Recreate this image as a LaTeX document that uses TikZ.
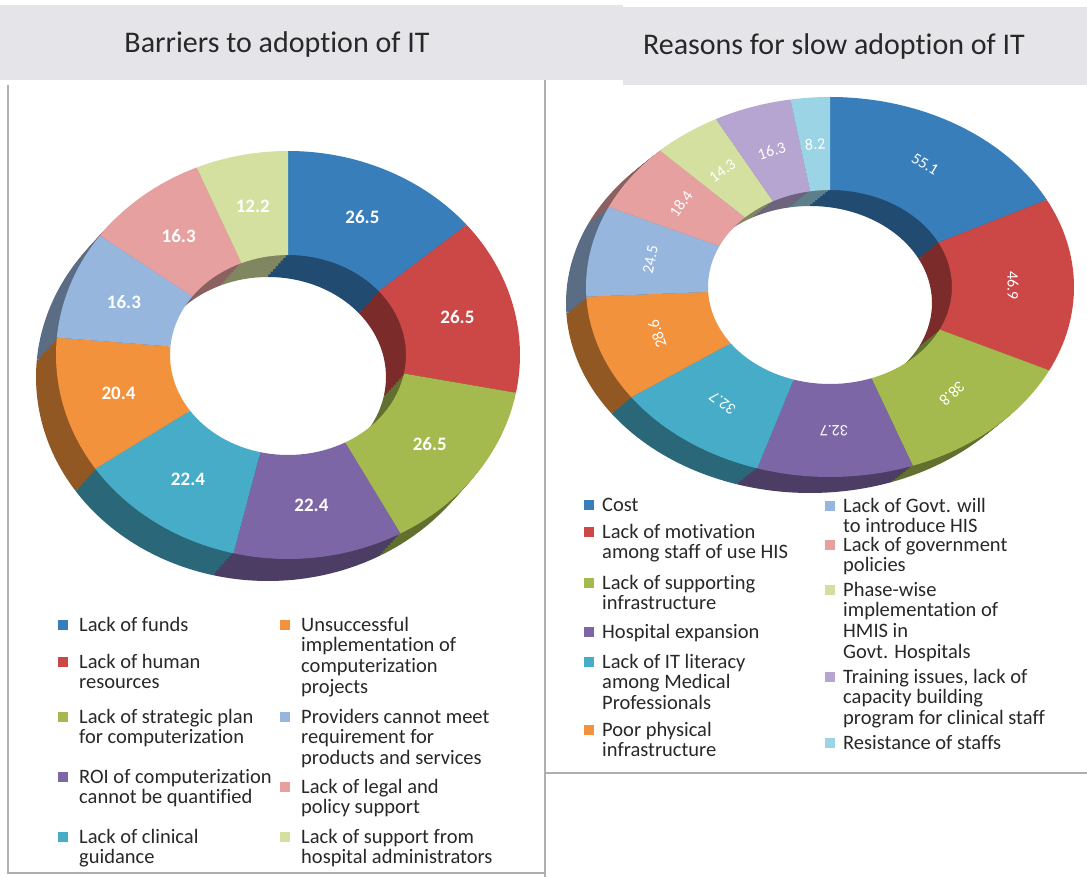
\documentclass[tikz,border=0pt]{standalone}
\usepackage{fontspec}
\setmainfont{Carlito}[Ligatures=NoCommon]
\definecolor{cblue}{RGB}{55, 126, 187}
\definecolor{cred}{RGB}{204, 72, 70}
\definecolor{cgreen}{RGB}{164, 186, 78}
\definecolor{cpurple}{RGB}{125, 102, 165}
\definecolor{ccyan}{RGB}{70, 172, 200}
\definecolor{corange}{RGB}{242, 146, 60}
\definecolor{clblue}{RGB}{150, 182, 222}
\definecolor{cpink}{RGB}{230, 160, 160}
\definecolor{clgreen}{RGB}{212, 224, 160}
\definecolor{clavender}{RGB}{182, 165, 208}
\definecolor{clcyan}{RGB}{155, 212, 228}
\definecolor{headgray}{RGB}{229, 229, 233}
\definecolor{framegray}{RGB}{175, 175, 175}
\definecolor{inkgray}{RGB}{40, 40, 40}
\usetikzlibrary{positioning}

\begin{document}
\begin{tikzpicture}[x=1pt, y=1pt,
  panelline/.style={draw=framegray, line width=1.3pt},
  title/.style={font=\fontsize{30}{32}\selectfont, text=inkgray, inner sep=0pt},
  val/.style={text=white, inner sep=0pt},
  key/.style={align=left, anchor=north west, inner sep=0pt, text=inkgray,
              font=\fontsize{20.5}{20.7}\selectfont},
  swatch/.style={minimum size=9.5pt, inner sep=0pt},
]
\useasboundingbox (0,0) rectangle (1087,-877);
\fill[white] (0,0) rectangle (1087,-877);

% Headers and frames
\fill[headgray] (0,-5) rectangle (623,-80);
\fill[headgray] (623,-7) rectangle (1087,-85);
\node[title] (ltitle) at (277,-45) {Barriers to adoption of IT};
\node[title] (rtitle) at (834,-47) {Reasons for slow adoption of IT};
\draw[panelline] (8,-85) -- (8,-873) -- (545,-873);
\draw[panelline] (545,-80) -- (545,-877);
\draw[panelline] (545,-773) -- (1087,-773);

% Left donut (sum 189.5)
\begin{scope}[shift={(288,-355)}]
\foreach \k in {8,7,...,1}
  \foreach \a/\v/\c in {0/26.5/cblue, 26.5/26.5/cred, 53/26.5/cgreen, 79.5/22.4/cpurple,
      101.9/22.4/ccyan, 124.3/20.4/corange, 144.7/16.3/clblue, 161/16.3/cpink, 177.3/12.2/clgreen} {
    \pgfmathsetmacro\sa{90-\a/189.5*360}
    \pgfmathsetmacro\ea{90-(\a+\v)/189.5*360}
    \fill[\c!60!black, shift={(-2.5*\k,-2.75*\k)}] (\sa:232 and 204)
      arc[start angle=\sa, end angle=\ea, x radius=232, y radius=204] -- (\ea:118 and 100)
      arc[start angle=\ea, end angle=\sa, x radius=118, y radius=100] -- cycle;
  }
\foreach \a/\v/\c [count=\i] in {0/26.5/cblue, 26.5/26.5/cred, 53/26.5/cgreen, 79.5/22.4/cpurple,
    101.9/22.4/ccyan, 124.3/20.4/corange, 144.7/16.3/clblue, 161/16.3/cpink, 177.3/12.2/clgreen} {
  \pgfmathsetmacro\sa{90-\a/189.5*360}
  \pgfmathsetmacro\ea{90-(\a+\v)/189.5*360}
  \pgfmathsetmacro\ma{90-(\a+\v/2)/189.5*360}
  \fill[\c] (\sa:232 and 204)
    arc[start angle=\sa, end angle=\ea, x radius=232, y radius=204] -- (\ea:118 and 100)
    arc[start angle=\ea, end angle=\sa, x radius=118, y radius=100] -- cycle;
  \node[val, font=\fontsize{19}{20}\selectfont\bfseries] (lv\i) at (\ma:175 and 152) {\v};
}
\end{scope}

% Right donut (sum 316.5)
\begin{scope}[shift={(830,-287)}]
\foreach \k in {8,7,...,1}
  \foreach \a/\v/\c in {0/55.1/cblue, 55.1/46.9/cred, 102/38.8/cgreen, 140.8/32.7/cpurple,
      173.5/32.7/ccyan, 206.2/28.6/corange, 234.8/24.5/clblue, 259.3/18.4/cpink,
      277.7/14.3/clgreen, 292/16.3/clavender, 308.3/8.2/clcyan} {
    \pgfmathsetmacro\sa{90-\a/316.5*360}
    \pgfmathsetmacro\ea{90-(\a+\v)/316.5*360}
    \fill[\c!60!black, shift={(-2.5*\k,-2*\k)}] (\sa:244 and 190)
      arc[start angle=\sa, end angle=\ea, x radius=244, y radius=190] -- (\ea:122 and 97)
      arc[start angle=\ea, end angle=\sa, x radius=122, y radius=97] -- cycle;
  }
\foreach \a/\v/\c [count=\i] in {0/55.1/cblue, 55.1/46.9/cred, 102/38.8/cgreen, 140.8/32.7/cpurple,
    173.5/32.7/ccyan, 206.2/28.6/corange, 234.8/24.5/clblue, 259.3/18.4/cpink,
    277.7/14.3/clgreen, 292/16.3/clavender, 308.3/8.2/clcyan} {
  \pgfmathsetmacro\sa{90-\a/316.5*360}
  \pgfmathsetmacro\ea{90-(\a+\v)/316.5*360}
  \pgfmathsetmacro\ma{90-(\a+\v/2)/316.5*360}
  \fill[\c] (\sa:244 and 190)
    arc[start angle=\sa, end angle=\ea, x radius=244, y radius=190] -- (\ea:122 and 97)
    arc[start angle=\ea, end angle=\sa, x radius=122, y radius=97] -- cycle;
  \node[val, font=\fontsize{16}{17}\selectfont, rotate=\ma-90] (rv\i) at (\ma:183 and 143.5) {\v};
}
\end{scope}

% Left legend (y = baseline of first line)
\foreach \x/\y/\c/\t [count=\i] in {63/631/cblue/{Lack of funds},
    63/668/cred/{Lack of human\\resources},
    63/723/cgreen/{Lack of strategic plan\\for computerization},
    63/783/cpurple/{ROI of computerization\\cannot be quantified},
    63/843/ccyan/{Lack of clinical\\guidance},
    285/631/corange/{Unsuccessful\\implementation of\\computerization\\projects},
    285/723/clblue/{Providers cannot meet\\requirement for\\products and services},
    285/793/cpink/{Lack of legal and\\policy support},
    285/843/clgreen/{Lack of support from\\hospital administrators}} {
  \node[swatch, fill=\c] (la\i) at (\x,-\y+6) {};
  \node[key] (lt\i) at (\x+16,-\y+14.5) {\strut\t};
}

% Right legend
\foreach \x/\y/\c/\t [count=\i] in {589/511/cblue/{Cost},
    589/538/cred/{Lack of motivation\\among staff of use HIS},
    589/589/cgreen/{Lack of supporting\\infrastructure},
    589/638/cpurple/{Hospital expansion},
    589/668/ccyan/{Lack of IT literacy\\among Medical\\Professionals},
    589/736/corange/{Poor physical\\infrastructure},
    830/512/clblue/{Lack of Govt. will\\to introduce HIS},
    830/551/cpink/{Lack of government\\policies},
    830/596/clgreen/{Phase-wise\\implementation of\\HMIS in\\Govt. Hospitals},
    830/683/clavender/{Training issues, lack of\\capacity building\\program for clinical staff},
    830/749/clcyan/{Resistance of staffs}} {
  \node[swatch, fill=\c] (ra\i) at (\x,-\y+6) {};
  \node[key] (rt\i) at (\x+13,-\y+14.5) {\strut\t};
}
\end{tikzpicture}
\end{document}
